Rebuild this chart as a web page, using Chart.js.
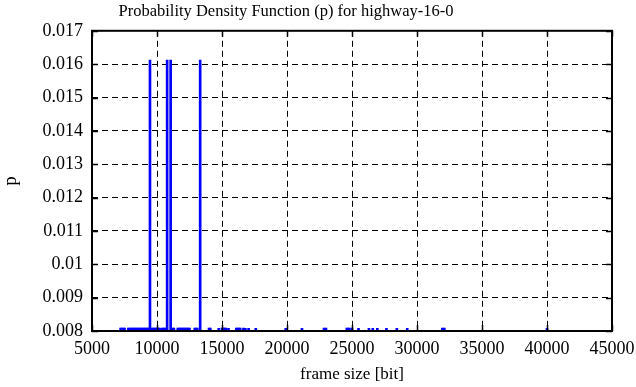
<!DOCTYPE html>
<html>
<head>
<meta charset="utf-8">
<script src="https://cdn.jsdelivr.net/npm/chart.js@4.4.1/dist/chart.umd.min.js"></script>
<style>
  html, body { margin: 0; padding: 0; background: #fff; }
  #wrap { width: 636px; height: 387px; }
</style>
</head>
<body>
<div id="wrap"><canvas id="pdf"></canvas></div>
<script>
// frame sizes [bit] with the four tall peaks
const peakSizes = [9460, 10780, 11050, 13320];
const peakP     = [0.01612, 0.01612, 0.01612, 0.01612];

// frame sizes whose density only just shows above the 0.008 floor
const lowSizes = [
    7200, 7300, 7400, 7500,
    7800, 7900, 8000, 8100, 8200, 8300, 8400, 8500, 8600, 8700, 8800, 8900,
    9000, 9100, 9200, 9300, 9400, 9600, 9700, 9800, 9900, 10000, 10100, 10200,
    10400, 10500, 10600, 10700,
    11200, 11300,
    11600, 11700, 11800, 11900, 12000, 12100, 12200, 12300,
    12400, 12500,
    12900, 13000, 13100,
    14000, 14100,
    14750,
    15000, 15100, 15200, 15300,
    15500,
    16100, 16200, 16300, 16400,
    16650, 16800,
    17050,
    17600,
    19900,
    21150,
    22850, 23000,
    24600, 24700, 24800, 25000,
    25500,
    26300, 26600, 26950, 27650, 28450, 29250,
    31950, 32100,
    40000,
];
const lowP = [
    0.00809, 0.00809, 0.00809, 0.00809,
    0.00809, 0.00809, 0.00809, 0.00809, 0.00809, 0.00809, 0.00809, 0.00809, 0.00809, 0.00809, 0.00809, 0.00809,
    0.00809, 0.00809, 0.00809, 0.00809, 0.00809, 0.00809, 0.00809, 0.00809, 0.00809, 0.00809, 0.00809, 0.00809,
    0.00809, 0.00809, 0.00809, 0.00809,
    0.00809, 0.00809,
    0.00809, 0.00809, 0.00809, 0.00809, 0.00809, 0.00809, 0.00809, 0.00809,
    0.00809, 0.00809,
    0.00809, 0.00809, 0.00809,
    0.00809, 0.00809,
    0.00808,
    0.00809, 0.00809, 0.00809, 0.00809,
    0.00808,
    0.00809, 0.00809, 0.00809, 0.00809,
    0.00809, 0.00808,
    0.00808,
    0.00808,
    0.00808,
    0.00808,
    0.00809, 0.00809,
    0.00809, 0.00809, 0.00809, 0.00809,
    0.00808,
    0.00808, 0.00808, 0.00808, 0.00808, 0.00808, 0.00808,
    0.00809, 0.00809,
    0.00808,
];

const xTicks = [5000, 10000, 15000, 20000, 25000, 30000, 35000, 40000, 45000];
const yTicks = [0.008, 0.009, 0.010, 0.011, 0.012, 0.013, 0.014, 0.015, 0.016, 0.017];

const FONT = 'Liberation Serif, Times New Roman, serif';
const BLUE = '#0000ff';

// frame + short solid tick marks on the inside of all four sides
const framePlugin = {
    id: 'frame',
    afterLayout(chart) {
        // title sits a bit left of the canvas centre, as in the original
        if (chart.titleBlock) chart.titleBlock.left -= 40;
    },
    afterDraw(chart) {
        const { ctx, chartArea: a, scales } = chart;
        ctx.save();
        ctx.strokeStyle = '#000';
        ctx.lineWidth = 1.5;
        xTicks.forEach(v => {
            const px = Math.round(scales.x.getPixelForValue(v)) + 0.5;
            ctx.beginPath();
            ctx.moveTo(px, a.bottom); ctx.lineTo(px, a.bottom - 6);
            ctx.moveTo(px, a.top);    ctx.lineTo(px, a.top + 6);
            ctx.stroke();
        });
        yTicks.forEach(v => {
            const py = Math.round(scales.y.getPixelForValue(v)) + 0.5;
            ctx.beginPath();
            ctx.moveTo(a.left, py);  ctx.lineTo(a.left + 6, py);
            ctx.moveTo(a.right, py); ctx.lineTo(a.right - 6, py);
            ctx.stroke();
        });
        ctx.lineWidth = 2;
        ctx.strokeRect(a.left, a.top, a.right - a.left, a.bottom - a.top);
        ctx.restore();
    },
};

const toPoints = (xs, ys) => xs.map((x, i) => ({ x, y: ys[i] }));

new Chart(document.getElementById('pdf'), {
    type: 'bar',
    data: {
        datasets: [
            {
                data: toPoints(lowSizes, lowP),
                backgroundColor: BLUE,
                barThickness: 2,
                grouped: false,
            },
            {
                data: toPoints(peakSizes, peakP),
                backgroundColor: BLUE,
                barThickness: 2,
                grouped: false,
            },
        ],
    },
    options: {
        responsive: true,
        maintainAspectRatio: false,
        animation: false,
        layout: { padding: { left: 0, right: 24, top: 0, bottom: 0 } },
        plugins: {
            legend: { display: false },
            tooltip: { enabled: false },
            title: {
                display: true,
                text: 'Probability Density Function (p) for highway-16-0',
                color: '#000',
                font: { family: FONT, size: 16.5, weight: 'normal' },
                padding: { top: 2, bottom: 9 },
            },
        },
        scales: {
            x: {
                type: 'linear',
                offset: false,
                min: 5000,
                max: 45000,
                afterBuildTicks: s => { s.ticks = xTicks.map(v => ({ value: v })); },
                afterFit: s => { s.height = 56; s.paddingLeft = 0; s.paddingRight = 0; },
                ticks: {
                    color: '#000',
                    font: { family: FONT, size: 18 },
                    padding: 7,
                    maxRotation: 0,
                    autoSkip: false,
                    callback: v => String(v),
                },
                grid: { color: '#000', lineWidth: 1, drawTicks: false, offset: false },
                border: { display: false, dash: [6, 4] },
                title: {
                    display: true,
                    text: 'frame size [bit]',
                    color: '#000',
                    font: { family: FONT, size: 17 },
                    padding: { top: 0, bottom: 2 },
                },
            },
            y: {
                min: 0.008,
                max: 0.017,
                afterBuildTicks: s => { s.ticks = yTicks.map(v => ({ value: v })); },
                afterFit: s => { s.width = 92; s.paddingTop = 0; s.paddingBottom = 0; },
                ticks: {
                    color: '#000',
                    font: { family: FONT, size: 18 },
                    padding: 9,
                    autoSkip: false,
                    callback: v => String(+v.toFixed(3)),
                },
                grid: { color: '#000', lineWidth: 1, drawTicks: false },
                border: { display: false, dash: [6, 4] },
                title: {
                    display: true,
                    text: 'p',
                    color: '#000',
                    font: { family: FONT, size: 19 },
                    padding: { top: 0, bottom: 0 },
                },
            },
        },
    },
    plugins: [framePlugin],
});
</script>
</body>
</html>
